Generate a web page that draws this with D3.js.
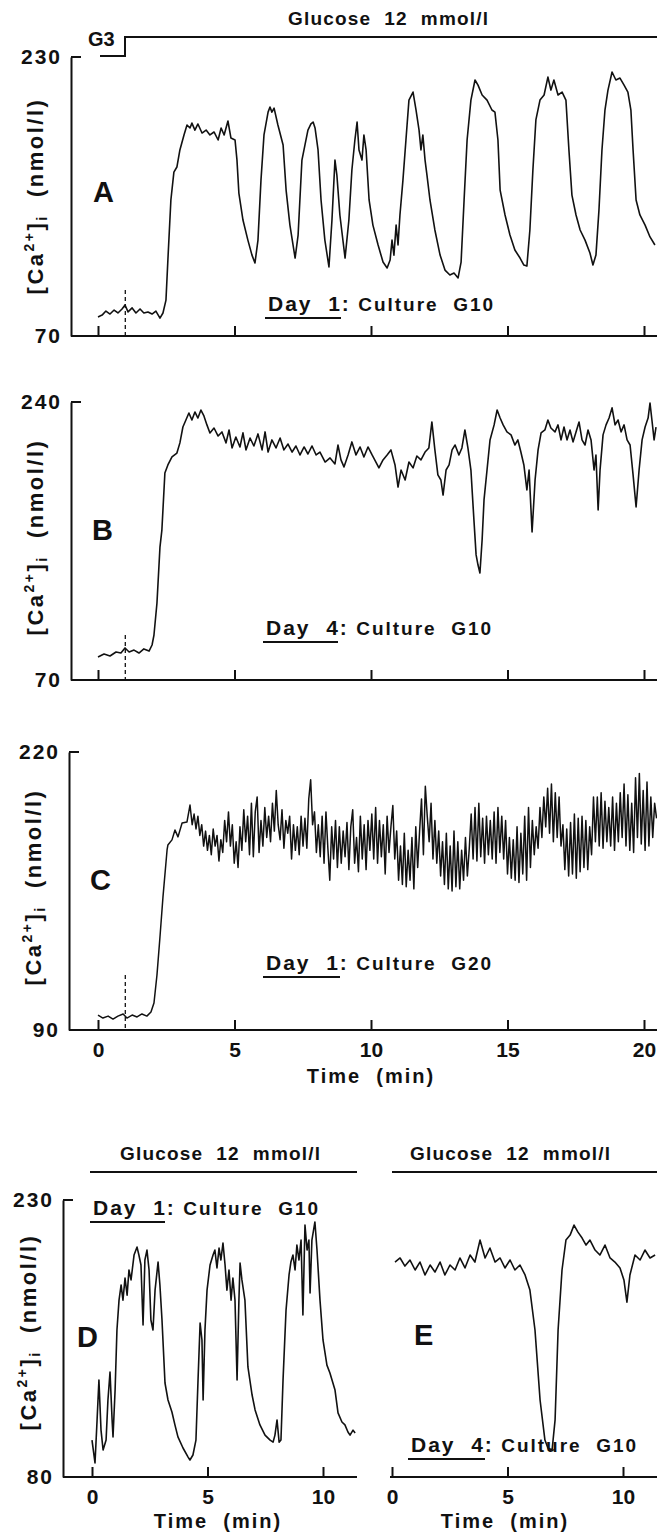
<!DOCTYPE html>
<html>
<head>
<meta charset="utf-8">
<script src="https://cdn.jsdelivr.net/npm/d3@7"></script>
<style>
body { margin: 0; background: #fff; }
text { font-family: "Liberation Sans", Arial, sans-serif; font-weight: bold; fill: #111; white-space: pre; }
</style>
</head>
<body>
<svg width="657" height="1537"></svg>
<script>
// [time (min), [Ca2+]i (nmol/l)]
var traceA = [[0,80.9],[0.15,82],[0.29,84.3],[0.44,82.6],[0.59,84.9],[0.73,83.2],[0.88,85.5],[0.99,87.8],[1.1,83.8],[1.25,86.1],[1.39,83.2],[1.54,85.5],[1.68,83.2],[1.83,83.8],[1.98,82.6],[2.12,84.3],[2.27,80.3],[2.38,83.2],[2.49,90.6],[2.56,113.6],[2.67,148],[2.78,164],[2.89,166.9],[3,176.7],[3.15,185.3],[3.26,191],[3.37,189.3],[3.44,192.1],[3.55,188.1],[3.66,191.6],[3.81,186.4],[3.96,188.1],[4.1,185.3],[4.25,187],[4.4,182.4],[4.51,189.3],[4.62,185.3],[4.76,193.3],[4.87,183.5],[5.02,182.4],[5.09,171],[5.16,152],[5.31,136.5],[5.49,125],[5.64,116.4],[5.75,111.9],[5.86,125],[5.97,159.4],[6.08,185.3],[6.23,198.4],[6.3,201.3],[6.37,198.4],[6.45,200.7],[6.59,191],[6.78,179.5],[6.89,153.7],[7.03,133.6],[7.22,114.7],[7.33,127.9],[7.47,170.9],[7.58,179.5],[7.69,188.1],[7.8,191.6],[7.88,192.7],[7.95,189.3],[8.06,176.7],[8.17,148],[8.31,125],[8.46,109.6],[8.57,136.5],[8.68,170.9],[8.75,162.3],[8.86,139.4],[9.05,114.7],[9.19,136.5],[9.3,165.2],[9.41,182.4],[9.49,192.7],[9.56,176.7],[9.67,170.9],[9.74,185.3],[9.82,176.7],[9.93,148],[10.07,133.6],[10.26,122.2],[10.44,112.4],[10.59,109],[10.7,113.6],[10.77,125],[10.84,116.4],[10.92,133.6],[10.99,122.2],[11.06,139.4],[11.17,159.4],[11.28,182.4],[11.39,205.3],[11.54,209.9],[11.65,199.6],[11.76,188.1],[11.83,176.7],[11.9,185.3],[11.98,170.9],[12.05,162.3],[12.16,148],[12.34,130.8],[12.53,116.4],[12.71,107.8],[12.89,105],[13.04,106.1],[13.19,103.3],[13.3,112.4],[13.41,148],[13.52,182.4],[13.66,205.3],[13.81,216.8],[13.92,213.9],[14.07,208.2],[14.25,205.3],[14.43,199.6],[14.54,198.4],[14.65,182.4],[14.73,153.7],[14.91,139.4],[15.09,127.9],[15.27,119.3],[15.46,114.7],[15.6,110.7],[15.71,110.1],[15.82,130.8],[15.93,165.2],[16.04,193.9],[16.19,205.3],[16.34,208.2],[16.48,218.5],[16.59,211],[16.7,216.8],[16.85,208.2],[17,209.9],[17.14,205.3],[17.25,176.7],[17.36,150.8],[17.51,139.4],[17.66,130.8],[17.84,125],[18.02,117.6],[18.13,110.7],[18.24,116.4],[18.35,142.2],[18.46,176.7],[18.57,199.6],[18.68,211],[18.83,221.4],[18.97,216.8],[19.12,217.9],[19.27,213.9],[19.41,209.9],[19.52,199.6],[19.6,176.7],[19.71,148],[19.85,139.4],[20.04,133.6],[20.22,126.8],[20.4,122.2]];

var traceB = [[0,84.1],[0.22,85.9],[0.44,84.7],[0.66,87.1],[0.84,86.5],[0.99,89.6],[1.14,87.1],[1.32,88.3],[1.5,86.5],[1.68,89],[1.87,87.7],[1.98,91.4],[2.05,97.5],[2.16,117.1],[2.27,151.3],[2.34,161.7],[2.45,196.6],[2.56,201.5],[2.71,206.4],[2.89,208.8],[3,215],[3.11,224.7],[3.22,229],[3.33,233.3],[3.44,229],[3.55,233.9],[3.66,230.2],[3.77,235.1],[3.88,231.5],[3.99,226],[4.1,221.1],[4.25,224.1],[4.4,219.2],[4.54,221.7],[4.69,215],[4.8,222.9],[4.91,211.9],[5.05,218.6],[5.2,212.5],[5.31,221.1],[5.42,210.7],[5.57,218],[5.71,213.1],[5.86,220.5],[6.01,210.7],[6.12,221.7],[6.23,209.4],[6.37,216.8],[6.52,211.9],[6.67,218],[6.81,210.7],[6.96,214.3],[7.11,209.4],[7.25,213.1],[7.4,207.6],[7.55,212.5],[7.69,208.2],[7.84,213.1],[7.99,207.6],[8.13,209.4],[8.32,203.3],[8.5,205.8],[8.68,202.1],[8.79,213.7],[8.9,204.6],[9.01,200.3],[9.16,207.6],[9.3,215.6],[9.45,207.6],[9.6,212.5],[9.74,206.4],[9.89,212.5],[10.04,207.6],[10.18,203.3],[10.29,199.7],[10.44,204.6],[10.59,207.6],[10.73,210.7],[10.88,201.5],[10.99,188],[11.1,198.4],[11.25,192.3],[11.39,203.3],[11.54,199.7],[11.68,207],[11.83,204.6],[11.98,209.4],[12.12,211.9],[12.23,227.8],[12.34,210.7],[12.45,195.4],[12.56,192.3],[12.64,183.1],[12.75,198.4],[12.86,201.5],[12.97,210.7],[13.08,213.7],[13.22,207.6],[13.33,211.9],[13.44,222.9],[13.55,211.9],[13.66,198.4],[13.77,167.9],[13.85,146.5],[13.92,140.3],[13.99,135.4],[14.07,155.6],[14.14,180.1],[14.25,198.4],[14.36,216.8],[14.51,226],[14.62,235.1],[14.73,230.2],[14.84,226],[14.98,221.7],[15.13,219.9],[15.27,213.7],[15.38,216.8],[15.49,209.4],[15.6,201.5],[15.71,186.2],[15.79,198.4],[15.9,160.5],[16.01,192.3],[16.12,210.7],[16.23,221.1],[16.37,222.9],[16.48,229],[16.59,224.1],[16.74,221.7],[16.85,226],[16.96,216.8],[17.07,224.7],[17.18,216.8],[17.29,222.9],[17.4,215.6],[17.51,221.7],[17.62,227.8],[17.73,216.8],[17.84,213.7],[17.95,222.9],[18.06,216.8],[18.17,198.4],[18.24,207.6],[18.32,174],[18.39,198.4],[18.5,219.9],[18.61,226],[18.72,230.2],[18.83,236.4],[18.94,226],[19.05,229],[19.16,221.7],[19.27,226],[19.38,216.8],[19.49,213.7],[19.6,195.4],[19.71,175.8],[19.82,198.4],[19.93,216.8],[20.04,224.7],[20.15,230.2],[20.22,239.4],[20.29,229],[20.37,216.8],[20.44,224.7]];

var traceC = [[0,97],[0.18,95.6],[0.37,96.5],[0.55,95.1],[0.73,96.5],[0.92,97.5],[1.06,95.6],[1.25,97],[1.43,96.1],[1.61,97.5],[1.79,96.5],[1.94,98.4],[2.05,102.6],[2.16,115.7],[2.27,133.5],[2.38,152.2],[2.53,174.2],[2.56,176.5],[2.71,178.9],[2.82,183.5],[2.93,180.3],[3.08,186.8],[3.26,187.3],[3.37,195.2],
[3.45,186],[3.52,191],[3.59,184],[3.66,190],[3.73,181],[3.8,186],[3.87,176],[3.94,183],[4.01,174],[4.08,181],[4.15,172],[4.22,184],[4.29,176],[4.36,181],[4.43,169],[4.5,179],[4.57,173],[4.64,188],[4.71,178],[4.78,192],[4.85,176],[4.92,186],[4.99,168],[5.06,178],[5.13,166],[5.2,185],[5.27,174],[5.34,193],[5.41,178],[5.48,190],[5.55,172],[5.62,196],[5.69,171],[5.76,192],[5.83,199],[5.9,173],[5.97,188],[6.04,176],[6.11,194],[6.18,180],[6.25,190],[6.32,178],[6.39,196],[6.46,183],[6.53,202],[6.6,186],[6.67,179],[6.74,193],[6.81,175],[6.88,188],[6.95,182],[7.02,190],[7.09,170],[7.16,186],[7.23,174],[7.3,185],[7.37,172],[7.44,190],[7.51,176],[7.58,189],[7.65,175],[7.72,198],[7.79,207],[7.86,186],[7.93,192],[8,173],[8.07,186],[8.14,171],[8.21,190],[8.28,168],[8.35,192],[8.42,175],[8.49,160],[8.56,185],[8.63,170],[8.7,188],[8.77,166],[8.84,185],[8.91,168],[8.98,183],[9.05,171],[9.12,187],[9.19,165],[9.26,185],[9.33,193],[9.4,168],[9.47,180],[9.54,164],[9.61,190],[9.68,170],[9.75,186],[9.82,165],[9.89,188],[9.96,174],[10.03,191],[10.1,170],[10.17,194],[10.24,168],[10.31,188],[10.38,171],[10.45,186],[10.52,163],[10.59,190],[10.66,173],[10.73,185],[10.8,195],[10.87,170],[10.94,183],[11.01,160],[11.08,176],[11.15,158],[11.22,182],[11.29,157],[11.36,174],[11.43,160],[11.5,180],[11.57,156],[11.64,185],[11.71,166],[11.78,183],[11.85,198],[11.92,172],[11.99,204],[12.06,190],[12.13,178],[12.2,196],[12.27,170],[12.34,188],[12.41,168],[12.48,183],[12.55,162],[12.62,178],[12.69,158],[12.76,182],[12.83,156],[12.9,176],[12.97,155],[13.04,183],[13.11,157],[13.18,178],[13.25,156],[13.32,174],[13.39,160],[13.46,180],[13.53,162],[13.6,175],[13.67,191],[13.74,170],[13.81,194],[13.88,169],[13.95,196],[14.02,171],[14.09,189],[14.16,168],[14.23,190],[14.3,172],[14.37,188],[14.44,170],[14.51,192],[14.58,168],[14.65,194],[14.72,173],[14.79,190],[14.86,170],[14.93,188],[15,163],[15.07,180],[15.14,161],[15.21,179],[15.28,160],[15.35,185],[15.42,159],[15.49,182],[15.56,163],[15.63,190],[15.7,160],[15.77,194],[15.84,166],[15.91,188],[15.98,172],[16.05,185],[16.12,175],[16.19,194],[16.26,180],[16.33,199],[16.4,185],[16.47,203],[16.54,182],[16.61,205],[16.68,178],[16.75,201],[16.82,180],[16.89,199],[16.96,176],[17.03,186],[17.1,165],[17.17,184],[17.24,162],[17.31,187],[17.38,163],[17.45,191],[17.52,161],[17.59,189],[17.66,164],[17.73,190],[17.8,166],[17.87,188],[17.94,165],[18.01,185],[18.08,172],[18.15,199],[18.22,178],[18.29,199],[18.36,176],[18.43,201],[18.5,175],[18.57,197],[18.64,178],[18.71,194],[18.78,176],[18.85,199],[18.92,174],[18.99,196],[19.06,178],[19.13,201],[19.2,180],[19.27,205],[19.34,176],[19.41,200],[19.48,174],[19.55,196],[19.62,173],[19.69,208],[19.76,180],[19.83,210],[19.9,177],[19.97,202],[20.04,174],[20.11,206],[20.18,176],[20.25,199],[20.32,180],[20.39,196],[20.46,189]];

var traceD = [[0,100],[0.13,87.6],[0.22,110.9],[0.3,132.5],[0.39,105.4],[0.48,94.6],[0.61,100],[0.69,121.7],[0.78,136.8],[0.87,110.9],[0.91,101.7],[1,127.1],[1.08,159.6],[1.17,175.8],[1.26,184],[1.34,175.8],[1.43,187.7],[1.52,178.5],[1.6,192.1],[1.69,186.7],[1.82,200.2],[1.95,204.5],[2.03,200.2],[2.12,194.8],[2.21,162.3],[2.29,197.5],[2.38,202.9],[2.47,192.1],[2.55,165],[2.64,159.6],[2.73,181.2],[2.86,196.4],[2.94,184],[3.03,165],[3.16,130.9],[3.29,121.7],[3.46,115.2],[3.59,108.2],[3.72,101.7],[3.94,95.7],[4.16,90.8],[4.24,89.2],[4.37,91.9],[4.5,100],[4.59,132.5],[4.68,163.4],[4.76,154.2],[4.81,121.7],[4.89,159.6],[4.98,181.2],[5.11,194.8],[5.24,200.2],[5.32,202.9],[5.41,193.2],[5.5,204],[5.58,197.5],[5.67,206.7],[5.76,194.8],[5.84,181.2],[5.93,192.1],[6.02,175.8],[6.1,187.7],[6.19,175.8],[6.28,132.5],[6.36,175.8],[6.41,195.9],[6.49,186.7],[6.62,175.8],[6.75,139.6],[6.93,124.4],[7.06,116.3],[7.27,108.2],[7.49,102.7],[7.71,100],[7.84,98.9],[7.92,102.7],[8.01,110.9],[8.1,98.9],[8.18,100],[8.27,132.5],[8.4,170.4],[8.53,189.4],[8.61,196.4],[8.7,200.2],[8.79,192.1],[8.87,205.6],[8.96,197.5],[9.05,208.3],[9.13,167.7],[9.22,216.4],[9.31,202.9],[9.39,208.3],[9.44,179.6],[9.52,208.3],[9.65,218.1],[9.74,202.9],[9.87,175.8],[10,154.2],[10.17,140.6],[10.3,136.3],[10.52,127.1],[10.65,114.7],[10.82,109.8],[10.95,108.2],[11.08,104.4],[11.17,102.7],[11.3,105.4],[11.39,103.8]];

var traceE = [[0.13,196.4],[0.35,198.6],[0.56,194.2],[0.78,197.5],[1,192.1],[1.21,196.4],[1.43,189.4],[1.65,194.8],[1.86,191],[2.08,196.4],[2.29,189.4],[2.51,194.8],[2.73,192.1],[2.94,198.6],[3.16,193.2],[3.38,200.2],[3.59,196.4],[3.81,208.3],[4.03,198.6],[4.24,204],[4.46,196.4],[4.68,198.6],[4.89,193.2],[5.11,197.5],[5.32,192.1],[5.54,194.8],[5.76,189.4],[5.97,181.2],[6.19,159.6],[6.41,121.7],[6.62,100],[6.75,95.7],[6.93,94.6],[7.06,110.9],[7.19,159.6],[7.36,192.1],[7.53,208.3],[7.71,211],[7.88,216.4],[8.05,212.6],[8.23,209.4],[8.4,205.6],[8.57,208.3],[8.79,202.9],[9,200.2],[9.22,205.6],[9.44,198.6],[9.65,196.4],[9.87,193.2],[10.04,186.7],[10.17,174.7],[10.3,189.4],[10.52,200.2],[10.74,197.5],[10.95,202.9],[11.17,198.6],[11.39,200.2]];

var timeTicks = [0, 5, 10, 15, 20];
var shortTicks = [0, 5, 10];
var yTicksA = [70, 230], yTicksB = [70, 240], yTicksC = [90, 220], yTicksDE = [80, 230];

var ink = "#111";
var svg = d3.select("svg");

var xMain = d3.scaleLinear().domain([0, 20]).range([98, 644]);
var yA = d3.scaleLinear().domain(d3.extent(yTicksA)).range([336, 57]);
var yB = d3.scaleLinear().domain(d3.extent(yTicksB)).range([680, 402]);
var yC = d3.scaleLinear().domain(d3.extent(yTicksC)).range([1030, 752]);
var xD = d3.scaleLinear().domain([0, 10]).range([92, 323]);
var xE = d3.scaleLinear().domain([0, 10]).range([392, 623]);
var yDE = d3.scaleLinear().domain(d3.extent(yTicksDE)).range([1477, 1200]);

var line = function(x1, y1, x2, y2, w, dash) {
    var l = svg.append("line")
        .attr("x1", x1).attr("y1", y1).attr("x2", x2).attr("y2", y2)
        .attr("stroke", ink).attr("stroke-width", w || 2);
    if (dash) l.attr("stroke-dasharray", dash);
    return l;
}

var drawTrace = function(data, x, y, w) {
    var gen = d3.line()
        .x(function(d) { return x(d[0]); })
        .y(function(d) { return y(d[1]); });
    svg.append("path").datum(data)
        .attr("d", gen)
        .attr("fill", "none")
        .attr("stroke", ink)
        .attr("stroke-width", w || 1.6)
        .attr("stroke-linejoin", "round");
}

var xAxis = function(x, y0, left, right, ticks, labels) {
    line(left, y0, right, y0, 2);
    var ax = d3.axisBottom(x).tickValues(ticks).tickSizeInner(-10).tickSizeOuter(0).tickPadding(12);
    if (!labels) ax.tickFormat("");
    var g = svg.append("g").attr("transform", "translate(0," + y0 + ")").call(ax);
    g.select(".domain").remove();
    g.selectAll("line").attr("stroke", ink).attr("stroke-width", 2);
    g.selectAll("text").attr("font-size", 21).attr("fill", ink)
        .style("font-family", "'Liberation Sans', Arial, sans-serif").style("font-weight", "bold");
}

var yAxis = function(y, x0, ticks) {
    var g = svg.append("g").attr("transform", "translate(" + x0 + ",0)")
        .call(d3.axisLeft(y).tickValues(ticks).tickSize(0).tickPadding(9));
    g.select(".domain").attr("stroke", ink).attr("stroke-width", 2);
    g.selectAll("text").attr("font-size", 21).attr("letter-spacing", 2).attr("fill", ink)
        .style("font-family", "'Liberation Sans', Arial, sans-serif").style("font-weight", "bold");
    var top = y(d3.max(ticks));
    line(x0, top, x0 + 10, top, 2);
}

var yLabel = function(cx, cy) {
    var t = svg.append("text")
        .attr("transform", "translate(" + cx + "," + cy + ") rotate(-90)")
        .attr("text-anchor", "middle")
        .attr("font-size", 22)
        .attr("letter-spacing", 2.5);
    t.append("tspan").text("[Ca");
    t.append("tspan").attr("font-size", 14).attr("dy", -9).text("2+");
    t.append("tspan").attr("dy", 9).text("]");
    t.append("tspan").attr("font-size", 14).attr("dy", 4).text("i");
    t.append("tspan").attr("dy", -4).text("  (nmol/l)");
}

var dayLabel = function(x, y, day, culture, ulEnd) {
    var t = svg.append("text").attr("x", x).attr("y", y).attr("font-size", 21).attr("letter-spacing", 2);
    t.append("tspan").text("Day  " + day + ":");
    t.append("tspan").attr("font-size", 19).text(" Culture  " + culture);
    line(x - 3, y + 7, ulEnd, y + 7, 2);
}

var panelLetter = function(x, y, s) {
    svg.append("text").attr("x", x).attr("y", y).attr("font-size", 29).text(s);
}

var title = function(x, y, s) {
    svg.append("text").attr("x", x).attr("y", y).attr("font-size", 19).attr("letter-spacing", 1.2).text(s);
}

// Panel A
title(288, 25, "Glucose  12  mmol/l");
svg.append("text").attr("x", 88).attr("y", 46).attr("font-size", 20).text("G3");
svg.append("path").attr("d", "M100,56H125V37H657").attr("fill", "none").attr("stroke", ink).attr("stroke-width", 2);
yAxis(yA, 71, yTicksA);
xAxis(xMain, 336, 71, 657, timeTicks, false);
line(xMain(1), 290, xMain(1), 336, 1.3, "4,3");
drawTrace(traceA, xMain, yA);
panelLetter(93, 202, "A");
dayLabel(268, 311, "1", "G10", 341);
yLabel(43, 196);

// Panel B
yAxis(yB, 71, yTicksB);
xAxis(xMain, 680, 71, 657, timeTicks, false);
line(xMain(1), 635, xMain(1), 680, 1.3, "4,3");
drawTrace(traceB, xMain, yB);
panelLetter(92, 540, "B");
dayLabel(266, 635, "4", "G10", 338);
yLabel(43, 537);

// Panel C
yAxis(yC, 69, yTicksC);
xAxis(xMain, 1030, 69, 657, timeTicks, true);
line(xMain(1), 975, xMain(1), 1030, 1.3, "4,3");
drawTrace(traceC, xMain, yC, 1.5);
panelLetter(90, 890, "C");
dayLabel(266, 970, "1", "G20", 340);
yLabel(41, 887);
svg.append("text").attr("x", xMain(10)).attr("y", 1083).attr("text-anchor", "middle")
    .attr("font-size", 20).attr("letter-spacing", 2).text("Time  (min)");

// Panel D
title(120, 1160, "Glucose  12  mmol/l");
line(90, 1172, 357, 1172, 2);
yAxis(yDE, 63, yTicksDE);
xAxis(xD, 1477, 63, 357, shortTicks, true);
drawTrace(traceD, xD, yDE);
panelLetter(77, 1347, "D");
dayLabel(93, 1215, "1", "G10", 165);
yLabel(36, 1332);
svg.append("text").attr("x", 218).attr("y", 1528).attr("text-anchor", "middle")
    .attr("font-size", 20).attr("letter-spacing", 2).text("Time  (min)");

// Panel E
title(410, 1160, "Glucose  12  mmol/l");
line(392, 1172, 657, 1172, 2);
xAxis(xE, 1477, 390, 657, shortTicks, true);
drawTrace(traceE, xE, yDE);
panelLetter(414, 1345, "E");
dayLabel(411, 1452, "4", "G10", 485);
svg.append("text").attr("x", 505).attr("y", 1528).attr("text-anchor", "middle")
    .attr("font-size", 20).attr("letter-spacing", 2).text("Time  (min)");
</script>
</body>
</html>
